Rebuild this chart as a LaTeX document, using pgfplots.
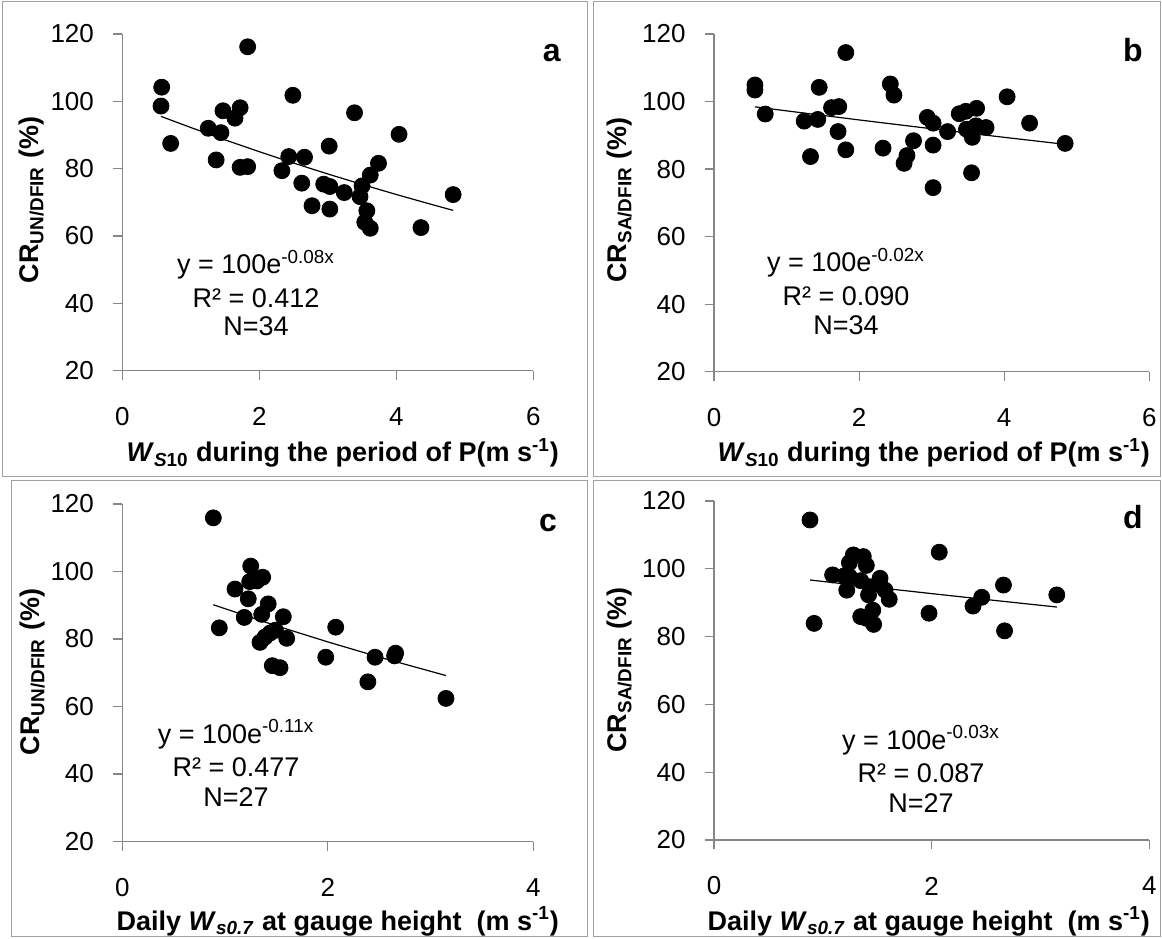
\documentclass[border=0pt]{standalone}
\usepackage{fontspec}
\setmainfont{Liberation Sans}
\usepackage{pgfplots}
\pgfplotsset{compat=1.18}
\definecolor{axgray}{HTML}{868686}
\definecolor{frgray}{HTML}{A0A0A0}
\pgfplotsset{
  panel/.style={
    scale only axis,
    anchor=south west,
    axis x line=bottom, axis y line=left,
    axis line style={-, draw=axgray, line width=0.6pt},
    tick style={draw=axgray, line width=0.6pt},
    tick align=outside,
    major tick length=4.5pt,
    ymin=20, ymax=120, ytick={20,40,...,120},
    xmin=0,
    tick label style={font=\fontsize{13}{15}\selectfont},
    /pgf/number format/assume math mode=true,
    xticklabel style={anchor=center, inner sep=0pt, yshift=-18.5pt},
    yticklabel style={anchor=east, inner sep=0pt, xshift=-9.5pt},
    clip=false,
  },
  dots/.style={only marks, mark=*, mark size=4pt, mark options={fill=black, draw=black}},
  trend/.style={no marks, black, line width=0.6pt},
}
\newcommand{\ann}{\fontsize{13.5}{16}\selectfont}
\newcommand{\ttl}{\bfseries\fontsize{13.5}{16}\selectfont}
\begin{document}
\begin{tikzpicture}
\path[use as bounding box] (0,0) rectangle (581pt,469pt);
% frames
\draw[frgray, line width=0.5pt] (1pt,468pt) rectangle (293.5pt,230.5pt);
\draw[frgray, line width=0.5pt] (296.5pt,468pt) rectangle (580pt,230.5pt);
\draw[frgray, line width=0.5pt] (5.5pt,228.5pt) rectangle (293.5pt,1pt);
\draw[frgray, line width=0.5pt] (296.5pt,228.5pt) rectangle (580pt,1pt);

% ---------------- a
\begin{axis}[panel, at={(61.15pt,283.65pt)}, width=205.5pt, height=168.35pt,
  xmax=6, xtick={0,2,4,6}]
\addplot[dots] coordinates {
(1.83,116.2) (0.575,104.2) (0.565,98.6) (2.49,101.8) (1.47,97.2) (1.72,98.1)
(1.645,95.0) (3.39,96.6) (1.255,92.0) (1.44,90.7) (0.706,87.5) (4.04,90.2)
(3.02,86.7) (1.37,82.6) (1.72,80.4) (1.83,80.6) (2.43,83.6) (2.66,83.4)
(2.33,79.4) (3.74,81.6) (3.62,78.1) (2.62,75.7) (2.94,75.4) (3.03,74.7)
(3.24,72.9) (3.50,74.9) (3.47,71.7) (4.83,72.3) (2.77,69.0) (3.03,68.0)
(3.57,67.5) (3.54,64.1) (3.62,62.3) (4.36,62.5)};
\addplot[trend] coordinates {(0.565,95.53) (1,92.22) (1.5,88.56) (2,85.04) (2.5,81.67)
(3,78.43) (3.5,75.32) (4,72.33) (4.5,69.46) (4.83,67.62)};
\end{axis}

% ---------------- b
\begin{axis}[panel, at={(357pt,283.15pt)}, width=217.65pt, height=168.85pt,
  xmax=6, xtick={0,2,4,6}]
\addplot[dots] coordinates {
(1.817,114.5) (0.564,104.9) (0.564,103.4) (1.45,104.2) (2.43,105.2) (2.48,101.9)
(4.04,101.4) (0.706,96.3) (1.62,98.2) (1.72,98.5) (1.243,94.2) (1.43,94.7)
(1.71,91.1) (1.33,83.7) (1.817,85.7) (2.33,86.2) (2.75,88.4) (2.66,84.0)
(2.62,81.7) (2.94,95.3) (3.02,93.6) (3.02,87.1) (3.02,74.5) (3.22,91.1)
(3.38,96.4) (3.47,97.1) (3.62,98.0) (3.48,91.8) (3.61,92.8) (3.56,89.4)
(3.75,92.3) (3.55,78.9) (4.35,93.6) (4.84,87.6)};
\addplot[trend] coordinates {(0.564,98.43) (1,97.24) (2,94.55) (3,91.94) (4,89.40) (4.84,87.33)};
\end{axis}

% ---------------- c
\begin{axis}[panel, at={(61.15pt,48.25pt)}, width=205.5pt, height=168.75pt,
  xmax=4, xtick={0,2,4}]
\addplot[dots] coordinates {
(0.886,115.9) (1.25,101.6) (1.366,98.3) (1.24,97.0) (1.31,97.2) (1.30,97.8)
(1.097,94.8) (1.226,91.9) (1.42,90.4) (1.357,87.3) (1.567,86.6) (1.187,86.4)
(0.944,83.3) (2.077,83.5) (1.34,79.0) (1.39,80.6) (1.44,81.8) (1.49,82.6)
(1.60,80.2) (1.98,74.6) (2.46,74.6) (2.66,75.8) (2.65,75.0) (1.46,72.1)
(1.535,71.5) (2.39,67.3) (3.15,62.4)};
\addplot[trend] coordinates {(0.886,90.15) (1.5,83.90) (2,79.14) (2.5,74.64) (3.15,69.17)};
\end{axis}

% ---------------- d
\begin{axis}[panel, at={(357pt,49pt)}, width=217.65pt, height=169.5pt,
  xmax=4, xtick={0,2,4}]
\addplot[dots] coordinates {
(0.882,114.4) (2.07,104.9) (1.28,104.1) (1.372,103.6) (1.244,101.8) (1.40,101.0)
(1.09,98.2) (1.195,97.9) (1.244,97.7) (1.526,97.2) (1.348,96.5) (1.434,94.7)
(1.572,93.7) (1.22,93.7) (1.42,92.3) (1.61,91.0) (2.66,95.2) (2.46,91.6)
(2.38,89.0) (1.976,86.9) (0.92,83.9) (1.459,87.8) (1.348,85.9) (1.40,85.4)
(1.467,83.6) (2.67,81.7) (3.15,92.3)};
\addplot[trend] coordinates {(0.882,96.70) (1.5,94.46) (2,92.68) (2.5,90.94) (3.15,88.72)};
\end{axis}

% annotations
\node[font=\ann, anchor=base] at (128pt,332pt) {y = 100e\textsuperscript{-0.08x}};
\node[font=\ann, anchor=base] at (128pt,315pt) {R² = 0.412};
\node[font=\ann, anchor=base] at (128pt,301pt) {N=34};
\node[font=\ann, anchor=base] at (423pt,333pt) {y = 100e\textsuperscript{-0.02x}};
\node[font=\ann, anchor=base] at (423pt,316pt) {R² = 0.090};
\node[font=\ann, anchor=base] at (423pt,301.5pt) {N=34};
\node[font=\ann, anchor=base] at (118pt,97.5pt) {y = 100e\textsuperscript{-0.11x}};
\node[font=\ann, anchor=base] at (118pt,81pt) {R² = 0.477};
\node[font=\ann, anchor=base] at (118pt,66pt) {N=27};
\node[font=\ann, anchor=base] at (460.5pt,94.5pt) {y = 100e\textsuperscript{-0.03x}};
\node[font=\ann, anchor=base] at (460.5pt,78pt) {R² = 0.087};
\node[font=\ann, anchor=base] at (460.5pt,63pt) {N=27};

% panel letters
\node[font=\bfseries\fontsize{16}{18}\selectfont, anchor=base] at (275.85pt,438.15pt) {a};
\node[font=\bfseries\fontsize{16}{18}\selectfont, anchor=base] at (566.5pt,438.15pt) {b};
\node[font=\bfseries\fontsize{16}{18}\selectfont, anchor=base] at (274pt,203pt) {c};
\node[font=\bfseries\fontsize{16}{18}\selectfont, anchor=base] at (566.5pt,204.5pt) {d};

% axis titles
\node[font=\ttl, anchor=base east] at (283pt,238pt) {\textit{W}\textsubscript{\textit{S}10} during the period of P(m s\textsuperscript{-1})};
\node[font=\ttl, anchor=base east] at (578.5pt,238pt) {\textit{W}\textsubscript{\textit{S}10} during the period of P(m s\textsuperscript{-1})};
\node[font=\ttl, anchor=base east] at (283pt,4pt) {Daily \textit{W}\textsubscript{\textit{s0.7}} at gauge height \ (m s\textsuperscript{-1})};
\node[font=\ttl, anchor=base east] at (578.5pt,4pt) {Daily \textit{W}\textsubscript{\textit{s0.7}} at gauge height \ (m s\textsuperscript{-1})};
\node[font=\ttl, rotate=90] at (16pt,369pt) {CR\textsubscript{UN/DFIR} (\%)};
\node[font=\ttl, rotate=90] at (310pt,369pt) {CR\textsubscript{SA/DFIR} (\%)};
\node[font=\ttl, rotate=90] at (16.5pt,133pt) {CR\textsubscript{UN/DFIR} (\%)};
\node[font=\ttl, rotate=90] at (310pt,134pt) {CR\textsubscript{SA/DFIR} (\%)};
\end{tikzpicture}
\end{document}
